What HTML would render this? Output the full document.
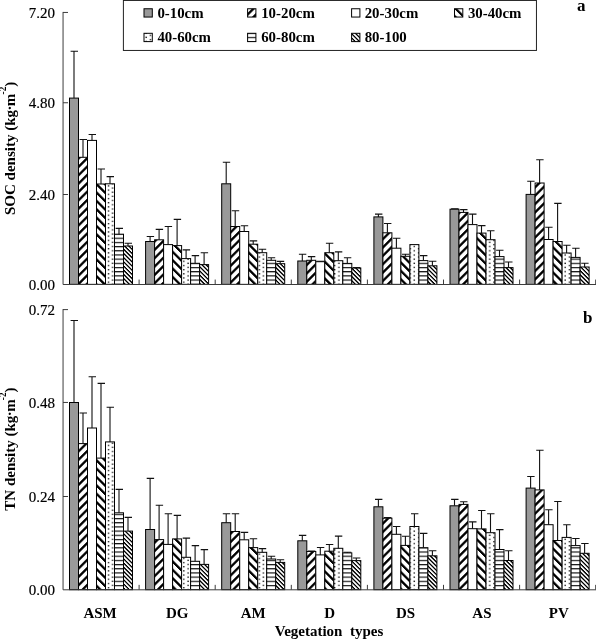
<!DOCTYPE html>
<html><head><meta charset="utf-8"><title>SOC and TN density by vegetation type</title>
<style>html,body{margin:0;padding:0;background:#fff}svg{display:block}</style></head>
<body>
<svg width="596" height="639" viewBox="0 0 596 639">
<defs>
<pattern id="p2" patternUnits="userSpaceOnUse" width="10" height="8.368" patternTransform="skewY(-45.000)"><rect width="10" height="8.368" fill="#fff"/><rect x="0" y="1.115" width="10" height="3.25" fill="#000"/></pattern>
<pattern id="p4" patternUnits="userSpaceOnUse" width="10" height="8.368" patternTransform="skewY(45.000)"><rect width="10" height="8.368" fill="#fff"/><rect x="0" y="-6.093" width="10" height="3.25" fill="#000"/><rect x="0" y="2.275" width="10" height="3.25" fill="#000"/></pattern>
<pattern id="p7" patternUnits="userSpaceOnUse" width="10" height="4.184" patternTransform="skewY(45.000)"><rect width="10" height="4.184" fill="#fff"/><rect x="0" y="3.330" width="10" height="1.9" fill="#000"/><rect x="0" y="-0.854" width="10" height="1.9" fill="#000"/></pattern>
<pattern id="p6" patternUnits="userSpaceOnUse" width="10" height="4.184"><rect width="10" height="4.184" fill="#fff"/><rect x="0" y="3.400" width="10" height="1.1" fill="#000"/><rect x="0" y="-0.784" width="10" height="1.1" fill="#000"/></pattern>
<pattern id="p4L" patternUnits="userSpaceOnUse" width="10" height="8.368" patternTransform="skewY(45.000)"><rect width="10" height="8.368" fill="#fff"/><rect x="0" y="3.350" width="10" height="3.1" fill="#000"/></pattern>
<pattern id="p5" patternUnits="userSpaceOnUse" width="8.38" height="4.184" x="7.240" y="1.200"><rect width="8.38" height="4.184" fill="#fff"/><rect x="0" y="0" width="1.3" height="1.3" fill="#000"/><rect x="4.190" y="2.092" width="1.3" height="1.3" fill="#000"/></pattern>
</defs>
<rect width="596" height="639" fill="#fff"/>
<rect x="69.50" y="98.10" width="9.0" height="186.25" fill="#999" stroke="#000" stroke-width="1"/>
<rect x="78.50" y="157.30" width="9.0" height="127.05" fill="url(#p2)" stroke="#000" stroke-width="1"/>
<rect x="87.50" y="140.40" width="9.0" height="143.95" fill="#fff" stroke="#000" stroke-width="1"/>
<rect x="96.50" y="184.00" width="9.0" height="100.35" fill="url(#p4)" stroke="#000" stroke-width="1"/>
<rect x="105.50" y="183.80" width="9.0" height="100.55" fill="url(#p5)" stroke="#000" stroke-width="1"/>
<rect x="114.50" y="234.20" width="9.0" height="50.15" fill="url(#p6)" stroke="#000" stroke-width="1"/>
<rect x="123.50" y="246.00" width="9.0" height="38.35" fill="url(#p7)" stroke="#000" stroke-width="1"/>
<rect x="145.60" y="241.50" width="9.0" height="42.85" fill="#999" stroke="#000" stroke-width="1"/>
<rect x="154.60" y="239.80" width="9.0" height="44.55" fill="url(#p2)" stroke="#000" stroke-width="1"/>
<rect x="163.60" y="244.60" width="9.0" height="39.75" fill="#fff" stroke="#000" stroke-width="1"/>
<rect x="172.60" y="245.60" width="9.0" height="38.75" fill="url(#p4)" stroke="#000" stroke-width="1"/>
<rect x="181.60" y="258.60" width="9.0" height="25.75" fill="url(#p5)" stroke="#000" stroke-width="1"/>
<rect x="190.60" y="263.30" width="9.0" height="21.05" fill="url(#p6)" stroke="#000" stroke-width="1"/>
<rect x="199.60" y="264.60" width="9.0" height="19.75" fill="url(#p7)" stroke="#000" stroke-width="1"/>
<rect x="221.70" y="183.80" width="9.0" height="100.55" fill="#999" stroke="#000" stroke-width="1"/>
<rect x="230.70" y="226.50" width="9.0" height="57.85" fill="url(#p2)" stroke="#000" stroke-width="1"/>
<rect x="239.70" y="231.50" width="9.0" height="52.85" fill="#fff" stroke="#000" stroke-width="1"/>
<rect x="248.70" y="244.20" width="9.0" height="40.15" fill="url(#p4)" stroke="#000" stroke-width="1"/>
<rect x="257.70" y="252.70" width="9.0" height="31.65" fill="url(#p5)" stroke="#000" stroke-width="1"/>
<rect x="266.70" y="260.30" width="9.0" height="24.05" fill="url(#p6)" stroke="#000" stroke-width="1"/>
<rect x="275.70" y="263.70" width="9.0" height="20.65" fill="url(#p7)" stroke="#000" stroke-width="1"/>
<rect x="297.80" y="261.00" width="9.0" height="23.35" fill="#999" stroke="#000" stroke-width="1"/>
<rect x="306.80" y="260.30" width="9.0" height="24.05" fill="url(#p2)" stroke="#000" stroke-width="1"/>
<rect x="315.80" y="261.70" width="9.0" height="22.65" fill="#fff" stroke="#000" stroke-width="1"/>
<rect x="324.80" y="252.70" width="9.0" height="31.65" fill="url(#p4)" stroke="#000" stroke-width="1"/>
<rect x="333.80" y="260.70" width="9.0" height="23.65" fill="url(#p5)" stroke="#000" stroke-width="1"/>
<rect x="342.80" y="263.40" width="9.0" height="20.95" fill="url(#p6)" stroke="#000" stroke-width="1"/>
<rect x="351.80" y="268.00" width="9.0" height="16.35" fill="url(#p7)" stroke="#000" stroke-width="1"/>
<rect x="373.90" y="216.90" width="9.0" height="67.45" fill="#999" stroke="#000" stroke-width="1"/>
<rect x="382.90" y="232.80" width="9.0" height="51.55" fill="url(#p2)" stroke="#000" stroke-width="1"/>
<rect x="391.90" y="248.20" width="9.0" height="36.15" fill="#fff" stroke="#000" stroke-width="1"/>
<rect x="400.90" y="256.30" width="9.0" height="28.05" fill="url(#p4)" stroke="#000" stroke-width="1"/>
<rect x="409.90" y="244.60" width="9.0" height="39.75" fill="url(#p5)" stroke="#000" stroke-width="1"/>
<rect x="418.90" y="260.60" width="9.0" height="23.75" fill="url(#p6)" stroke="#000" stroke-width="1"/>
<rect x="427.90" y="265.80" width="9.0" height="18.55" fill="url(#p7)" stroke="#000" stroke-width="1"/>
<rect x="450.00" y="209.20" width="9.0" height="75.15" fill="#999" stroke="#000" stroke-width="1"/>
<rect x="459.00" y="212.40" width="9.0" height="71.95" fill="url(#p2)" stroke="#000" stroke-width="1"/>
<rect x="468.00" y="224.60" width="9.0" height="59.75" fill="#fff" stroke="#000" stroke-width="1"/>
<rect x="477.00" y="233.10" width="9.0" height="51.25" fill="url(#p4)" stroke="#000" stroke-width="1"/>
<rect x="486.00" y="239.70" width="9.0" height="44.65" fill="url(#p5)" stroke="#000" stroke-width="1"/>
<rect x="495.00" y="256.60" width="9.0" height="27.75" fill="url(#p6)" stroke="#000" stroke-width="1"/>
<rect x="504.00" y="267.60" width="9.0" height="16.75" fill="url(#p7)" stroke="#000" stroke-width="1"/>
<rect x="526.10" y="194.40" width="9.0" height="89.95" fill="#999" stroke="#000" stroke-width="1"/>
<rect x="535.10" y="183.00" width="9.0" height="101.35" fill="url(#p2)" stroke="#000" stroke-width="1"/>
<rect x="544.10" y="239.50" width="9.0" height="44.85" fill="#fff" stroke="#000" stroke-width="1"/>
<rect x="553.10" y="241.50" width="9.0" height="42.85" fill="url(#p4)" stroke="#000" stroke-width="1"/>
<rect x="562.10" y="253.00" width="9.0" height="31.35" fill="url(#p5)" stroke="#000" stroke-width="1"/>
<rect x="571.10" y="257.40" width="9.0" height="26.95" fill="url(#p6)" stroke="#000" stroke-width="1"/>
<rect x="580.10" y="267.00" width="9.0" height="17.35" fill="url(#p7)" stroke="#000" stroke-width="1"/>
<path d="M74.00 98.10V51.30M70.60 51.30H78.00" stroke="#111" stroke-width="1.1" fill="none"/>
<path d="M83.00 157.30V139.50M79.60 139.50H87.00" stroke="#111" stroke-width="1.1" fill="none"/>
<path d="M92.00 140.40V134.50M88.60 134.50H96.00" stroke="#111" stroke-width="1.1" fill="none"/>
<path d="M101.00 184.00V169.00M97.60 169.00H105.00" stroke="#111" stroke-width="1.1" fill="none"/>
<path d="M110.00 183.80V176.60M106.60 176.60H114.00" stroke="#111" stroke-width="1.1" fill="none"/>
<path d="M119.00 234.20V228.40M115.60 228.40H123.00" stroke="#111" stroke-width="1.1" fill="none"/>
<path d="M128.00 246.00V243.30M124.60 243.30H132.00" stroke="#111" stroke-width="1.1" fill="none"/>
<path d="M150.10 241.50V236.50M146.70 236.50H154.10" stroke="#111" stroke-width="1.1" fill="none"/>
<path d="M159.10 239.80V229.40M155.70 229.40H163.10" stroke="#111" stroke-width="1.1" fill="none"/>
<path d="M168.10 244.60V226.50M164.70 226.50H172.10" stroke="#111" stroke-width="1.1" fill="none"/>
<path d="M177.10 245.60V219.40M173.70 219.40H181.10" stroke="#111" stroke-width="1.1" fill="none"/>
<path d="M186.10 258.60V249.90M182.70 249.90H190.10" stroke="#111" stroke-width="1.1" fill="none"/>
<path d="M195.10 263.30V255.60M191.70 255.60H199.10" stroke="#111" stroke-width="1.1" fill="none"/>
<path d="M204.10 264.60V252.70M200.70 252.70H208.10" stroke="#111" stroke-width="1.1" fill="none"/>
<path d="M226.20 183.80V162.30M222.80 162.30H230.20" stroke="#111" stroke-width="1.1" fill="none"/>
<path d="M235.20 226.50V210.70M231.80 210.70H239.20" stroke="#111" stroke-width="1.1" fill="none"/>
<path d="M244.20 231.50V225.70M240.80 225.70H248.20" stroke="#111" stroke-width="1.1" fill="none"/>
<path d="M253.20 244.20V240.90M249.80 240.90H257.20" stroke="#111" stroke-width="1.1" fill="none"/>
<path d="M262.20 252.70V249.20M258.80 249.20H266.20" stroke="#111" stroke-width="1.1" fill="none"/>
<path d="M271.20 260.30V257.70M267.80 257.70H275.20" stroke="#111" stroke-width="1.1" fill="none"/>
<path d="M280.20 263.70V261.40M276.80 261.40H284.20" stroke="#111" stroke-width="1.1" fill="none"/>
<path d="M302.30 261.00V254.30M298.90 254.30H306.30" stroke="#111" stroke-width="1.1" fill="none"/>
<path d="M311.30 260.30V256.60M307.90 256.60H315.30" stroke="#111" stroke-width="1.1" fill="none"/>
<path d="M320.30 261.70V261.20M316.90 261.20H324.30" stroke="#111" stroke-width="1.1" fill="none"/>
<path d="M329.30 252.70V243.30M325.90 243.30H333.30" stroke="#111" stroke-width="1.1" fill="none"/>
<path d="M338.30 260.70V251.90M334.90 251.90H342.30" stroke="#111" stroke-width="1.1" fill="none"/>
<path d="M347.30 263.40V257.70M343.90 257.70H351.30" stroke="#111" stroke-width="1.1" fill="none"/>
<path d="M356.30 268.00V267.60M352.90 267.60H360.30" stroke="#111" stroke-width="1.1" fill="none"/>
<path d="M378.40 216.90V214.10M375.00 214.10H382.40" stroke="#111" stroke-width="1.1" fill="none"/>
<path d="M387.40 232.80V223.50M384.00 223.50H391.40" stroke="#111" stroke-width="1.1" fill="none"/>
<path d="M396.40 248.20V238.30M393.00 238.30H400.40" stroke="#111" stroke-width="1.1" fill="none"/>
<path d="M405.40 256.30V254.20M402.00 254.20H409.40" stroke="#111" stroke-width="1.1" fill="none"/>
<path d="M423.40 260.60V255.60M420.00 255.60H427.40" stroke="#111" stroke-width="1.1" fill="none"/>
<path d="M432.40 265.80V261.30M429.00 261.30H436.40" stroke="#111" stroke-width="1.1" fill="none"/>
<path d="M454.50 209.20V208.70M451.10 208.70H458.50" stroke="#111" stroke-width="1.1" fill="none"/>
<path d="M463.50 212.40V209.60M460.10 209.60H467.50" stroke="#111" stroke-width="1.1" fill="none"/>
<path d="M472.50 224.60V214.10M469.10 214.10H476.50" stroke="#111" stroke-width="1.1" fill="none"/>
<path d="M481.50 233.10V225.60M478.10 225.60H485.50" stroke="#111" stroke-width="1.1" fill="none"/>
<path d="M490.50 239.70V230.70M487.10 230.70H494.50" stroke="#111" stroke-width="1.1" fill="none"/>
<path d="M499.50 256.60V250.30M496.10 250.30H503.50" stroke="#111" stroke-width="1.1" fill="none"/>
<path d="M508.50 267.60V262.00M505.10 262.00H512.50" stroke="#111" stroke-width="1.1" fill="none"/>
<path d="M530.60 194.40V181.20M527.20 181.20H534.60" stroke="#111" stroke-width="1.1" fill="none"/>
<path d="M539.60 183.00V159.70M536.20 159.70H543.60" stroke="#111" stroke-width="1.1" fill="none"/>
<path d="M548.60 239.50V227.20M545.20 227.20H552.60" stroke="#111" stroke-width="1.1" fill="none"/>
<path d="M557.60 241.50V203.40M554.20 203.40H561.60" stroke="#111" stroke-width="1.1" fill="none"/>
<path d="M566.60 253.00V245.30M563.20 245.30H570.60" stroke="#111" stroke-width="1.1" fill="none"/>
<path d="M575.60 257.40V248.30M572.20 248.30H579.60" stroke="#111" stroke-width="1.1" fill="none"/>
<path d="M584.60 267.00V263.30M581.20 263.30H588.60" stroke="#111" stroke-width="1.1" fill="none"/>
<path d="M63.05 11.95V284.5H596.1999999999999M63.0 12.45h5M63.0 102.75h5M63.0 194.50h5M139.10 284.35v-4.8M215.20 284.35v-4.8M291.30 284.35v-4.8M367.40 284.35v-4.8M443.50 284.35v-4.8M519.60 284.35v-4.8M595.70 284.35v-4.8" stroke="#3c3c3c" stroke-width="1" fill="none"/>
<rect x="69.50" y="402.50" width="9.0" height="187.15" fill="#999" stroke="#000" stroke-width="1"/>
<rect x="78.50" y="443.60" width="9.0" height="146.05" fill="url(#p2)" stroke="#000" stroke-width="1"/>
<rect x="87.50" y="428.00" width="9.0" height="161.65" fill="#fff" stroke="#000" stroke-width="1"/>
<rect x="96.50" y="458.10" width="9.0" height="131.55" fill="url(#p4)" stroke="#000" stroke-width="1"/>
<rect x="105.50" y="441.90" width="9.0" height="147.75" fill="url(#p5)" stroke="#000" stroke-width="1"/>
<rect x="114.50" y="512.80" width="9.0" height="76.85" fill="url(#p6)" stroke="#000" stroke-width="1"/>
<rect x="123.50" y="531.10" width="9.0" height="58.55" fill="url(#p7)" stroke="#000" stroke-width="1"/>
<rect x="145.60" y="529.50" width="9.0" height="60.15" fill="#999" stroke="#000" stroke-width="1"/>
<rect x="154.60" y="539.60" width="9.0" height="50.05" fill="url(#p2)" stroke="#000" stroke-width="1"/>
<rect x="163.60" y="544.40" width="9.0" height="45.25" fill="#fff" stroke="#000" stroke-width="1"/>
<rect x="172.60" y="538.90" width="9.0" height="50.75" fill="url(#p4)" stroke="#000" stroke-width="1"/>
<rect x="181.60" y="557.30" width="9.0" height="32.35" fill="url(#p5)" stroke="#000" stroke-width="1"/>
<rect x="190.60" y="561.30" width="9.0" height="28.35" fill="url(#p6)" stroke="#000" stroke-width="1"/>
<rect x="199.60" y="564.40" width="9.0" height="25.25" fill="url(#p7)" stroke="#000" stroke-width="1"/>
<rect x="221.70" y="522.70" width="9.0" height="66.95" fill="#999" stroke="#000" stroke-width="1"/>
<rect x="230.70" y="531.50" width="9.0" height="58.15" fill="url(#p2)" stroke="#000" stroke-width="1"/>
<rect x="239.70" y="539.80" width="9.0" height="49.85" fill="#fff" stroke="#000" stroke-width="1"/>
<rect x="248.70" y="547.60" width="9.0" height="42.05" fill="url(#p4)" stroke="#000" stroke-width="1"/>
<rect x="257.70" y="552.30" width="9.0" height="37.35" fill="url(#p5)" stroke="#000" stroke-width="1"/>
<rect x="266.70" y="559.00" width="9.0" height="30.65" fill="url(#p6)" stroke="#000" stroke-width="1"/>
<rect x="275.70" y="562.40" width="9.0" height="27.25" fill="url(#p7)" stroke="#000" stroke-width="1"/>
<rect x="297.80" y="540.80" width="9.0" height="48.85" fill="#999" stroke="#000" stroke-width="1"/>
<rect x="306.80" y="551.50" width="9.0" height="38.15" fill="url(#p2)" stroke="#000" stroke-width="1"/>
<rect x="315.80" y="554.90" width="9.0" height="34.75" fill="#fff" stroke="#000" stroke-width="1"/>
<rect x="324.80" y="551.20" width="9.0" height="38.45" fill="url(#p4)" stroke="#000" stroke-width="1"/>
<rect x="333.80" y="548.30" width="9.0" height="41.35" fill="url(#p5)" stroke="#000" stroke-width="1"/>
<rect x="342.80" y="552.90" width="9.0" height="36.75" fill="url(#p6)" stroke="#000" stroke-width="1"/>
<rect x="351.80" y="560.60" width="9.0" height="29.05" fill="url(#p7)" stroke="#000" stroke-width="1"/>
<rect x="373.90" y="506.80" width="9.0" height="82.85" fill="#999" stroke="#000" stroke-width="1"/>
<rect x="382.90" y="518.20" width="9.0" height="71.45" fill="url(#p2)" stroke="#000" stroke-width="1"/>
<rect x="391.90" y="534.30" width="9.0" height="55.35" fill="#fff" stroke="#000" stroke-width="1"/>
<rect x="400.90" y="545.40" width="9.0" height="44.25" fill="url(#p4)" stroke="#000" stroke-width="1"/>
<rect x="409.90" y="526.50" width="9.0" height="63.15" fill="url(#p5)" stroke="#000" stroke-width="1"/>
<rect x="418.90" y="547.70" width="9.0" height="41.95" fill="url(#p6)" stroke="#000" stroke-width="1"/>
<rect x="427.90" y="555.80" width="9.0" height="33.85" fill="url(#p7)" stroke="#000" stroke-width="1"/>
<rect x="450.00" y="505.80" width="9.0" height="83.85" fill="#999" stroke="#000" stroke-width="1"/>
<rect x="459.00" y="504.40" width="9.0" height="85.25" fill="url(#p2)" stroke="#000" stroke-width="1"/>
<rect x="468.00" y="528.70" width="9.0" height="60.95" fill="#fff" stroke="#000" stroke-width="1"/>
<rect x="477.00" y="528.90" width="9.0" height="60.75" fill="url(#p4)" stroke="#000" stroke-width="1"/>
<rect x="486.00" y="532.70" width="9.0" height="56.95" fill="url(#p5)" stroke="#000" stroke-width="1"/>
<rect x="495.00" y="549.50" width="9.0" height="40.15" fill="url(#p6)" stroke="#000" stroke-width="1"/>
<rect x="504.00" y="560.50" width="9.0" height="29.15" fill="url(#p7)" stroke="#000" stroke-width="1"/>
<rect x="526.10" y="488.10" width="9.0" height="101.55" fill="#999" stroke="#000" stroke-width="1"/>
<rect x="535.10" y="489.90" width="9.0" height="99.75" fill="url(#p2)" stroke="#000" stroke-width="1"/>
<rect x="544.10" y="524.70" width="9.0" height="64.95" fill="#fff" stroke="#000" stroke-width="1"/>
<rect x="553.10" y="540.50" width="9.0" height="49.15" fill="url(#p4)" stroke="#000" stroke-width="1"/>
<rect x="562.10" y="537.40" width="9.0" height="52.25" fill="url(#p5)" stroke="#000" stroke-width="1"/>
<rect x="571.10" y="545.60" width="9.0" height="44.05" fill="url(#p6)" stroke="#000" stroke-width="1"/>
<rect x="580.10" y="553.30" width="9.0" height="36.35" fill="url(#p7)" stroke="#000" stroke-width="1"/>
<path d="M74.00 402.50V320.50M70.60 320.50H78.00" stroke="#111" stroke-width="1.1" fill="none"/>
<path d="M83.00 443.60V413.00M79.60 413.00H87.00" stroke="#111" stroke-width="1.1" fill="none"/>
<path d="M92.00 428.00V376.70M88.60 376.70H96.00" stroke="#111" stroke-width="1.1" fill="none"/>
<path d="M101.00 458.10V383.40M97.60 383.40H105.00" stroke="#111" stroke-width="1.1" fill="none"/>
<path d="M110.00 441.90V407.20M106.60 407.20H114.00" stroke="#111" stroke-width="1.1" fill="none"/>
<path d="M119.00 512.80V489.40M115.60 489.40H123.00" stroke="#111" stroke-width="1.1" fill="none"/>
<path d="M128.00 531.10V517.40M124.60 517.40H132.00" stroke="#111" stroke-width="1.1" fill="none"/>
<path d="M150.10 529.50V478.40M146.70 478.40H154.10" stroke="#111" stroke-width="1.1" fill="none"/>
<path d="M159.10 539.60V505.20M155.70 505.20H163.10" stroke="#111" stroke-width="1.1" fill="none"/>
<path d="M168.10 544.40V513.70M164.70 513.70H172.10" stroke="#111" stroke-width="1.1" fill="none"/>
<path d="M177.10 538.90V515.40M173.70 515.40H181.10" stroke="#111" stroke-width="1.1" fill="none"/>
<path d="M186.10 557.30V538.10M182.70 538.10H190.10" stroke="#111" stroke-width="1.1" fill="none"/>
<path d="M195.10 561.30V545.60M191.70 545.60H199.10" stroke="#111" stroke-width="1.1" fill="none"/>
<path d="M204.10 564.40V549.60M200.70 549.60H208.10" stroke="#111" stroke-width="1.1" fill="none"/>
<path d="M226.20 522.70V513.70M222.80 513.70H230.20" stroke="#111" stroke-width="1.1" fill="none"/>
<path d="M235.20 531.50V513.70M231.80 513.70H239.20" stroke="#111" stroke-width="1.1" fill="none"/>
<path d="M244.20 539.80V532.40M240.80 532.40H248.20" stroke="#111" stroke-width="1.1" fill="none"/>
<path d="M253.20 547.60V538.70M249.80 538.70H257.20" stroke="#111" stroke-width="1.1" fill="none"/>
<path d="M262.20 552.30V548.60M258.80 548.60H266.20" stroke="#111" stroke-width="1.1" fill="none"/>
<path d="M271.20 559.00V556.20M267.80 556.20H275.20" stroke="#111" stroke-width="1.1" fill="none"/>
<path d="M280.20 562.40V559.80M276.80 559.80H284.20" stroke="#111" stroke-width="1.1" fill="none"/>
<path d="M302.30 540.80V535.40M298.90 535.40H306.30" stroke="#111" stroke-width="1.1" fill="none"/>
<path d="M311.30 551.50V551.00M307.90 551.00H315.30" stroke="#111" stroke-width="1.1" fill="none"/>
<path d="M320.30 554.90V547.50M316.90 547.50H324.30" stroke="#111" stroke-width="1.1" fill="none"/>
<path d="M329.30 551.20V544.50M325.90 544.50H333.30" stroke="#111" stroke-width="1.1" fill="none"/>
<path d="M338.30 548.30V536.10M334.90 536.10H342.30" stroke="#111" stroke-width="1.1" fill="none"/>
<path d="M347.30 552.90V552.30M343.90 552.30H351.30" stroke="#111" stroke-width="1.1" fill="none"/>
<path d="M356.30 560.60V558.00M352.90 558.00H360.30" stroke="#111" stroke-width="1.1" fill="none"/>
<path d="M378.40 506.80V499.40M375.00 499.40H382.40" stroke="#111" stroke-width="1.1" fill="none"/>
<path d="M387.40 518.20V517.50M384.00 517.50H391.40" stroke="#111" stroke-width="1.1" fill="none"/>
<path d="M396.40 534.30V526.50M393.00 526.50H400.40" stroke="#111" stroke-width="1.1" fill="none"/>
<path d="M405.40 545.40V536.30M402.00 536.30H409.40" stroke="#111" stroke-width="1.1" fill="none"/>
<path d="M414.40 526.50V513.80M411.00 513.80H418.40" stroke="#111" stroke-width="1.1" fill="none"/>
<path d="M423.40 547.70V533.40M420.00 533.40H427.40" stroke="#111" stroke-width="1.1" fill="none"/>
<path d="M432.40 555.80V550.70M429.00 550.70H436.40" stroke="#111" stroke-width="1.1" fill="none"/>
<path d="M454.50 505.80V499.40M451.10 499.40H458.50" stroke="#111" stroke-width="1.1" fill="none"/>
<path d="M463.50 504.40V501.70M460.10 501.70H467.50" stroke="#111" stroke-width="1.1" fill="none"/>
<path d="M472.50 528.70V521.90M469.10 521.90H476.50" stroke="#111" stroke-width="1.1" fill="none"/>
<path d="M481.50 528.90V510.50M478.10 510.50H485.50" stroke="#111" stroke-width="1.1" fill="none"/>
<path d="M490.50 532.70V513.80M487.10 513.80H494.50" stroke="#111" stroke-width="1.1" fill="none"/>
<path d="M499.50 549.50V529.60M496.10 529.60H503.50" stroke="#111" stroke-width="1.1" fill="none"/>
<path d="M508.50 560.50V550.70M505.10 550.70H512.50" stroke="#111" stroke-width="1.1" fill="none"/>
<path d="M530.60 488.10V476.50M527.20 476.50H534.60" stroke="#111" stroke-width="1.1" fill="none"/>
<path d="M539.60 489.90V450.30M536.20 450.30H543.60" stroke="#111" stroke-width="1.1" fill="none"/>
<path d="M548.60 524.70V509.80M545.20 509.80H552.60" stroke="#111" stroke-width="1.1" fill="none"/>
<path d="M557.60 540.50V501.50M554.20 501.50H561.60" stroke="#111" stroke-width="1.1" fill="none"/>
<path d="M566.60 537.40V524.80M563.20 524.80H570.60" stroke="#111" stroke-width="1.1" fill="none"/>
<path d="M575.60 545.60V538.50M572.20 538.50H579.60" stroke="#111" stroke-width="1.1" fill="none"/>
<path d="M584.60 553.30V543.50M581.20 543.50H588.60" stroke="#111" stroke-width="1.1" fill="none"/>
<path d="M63.05 309.1V589.8H596.1999999999999M63.0 309.60h5M63.0 402.45h5M63.0 496.50h5M139.10 589.65v-4.8M215.20 589.65v-4.8M291.30 589.65v-4.8M367.40 589.65v-4.8M443.50 589.65v-4.8M519.60 589.65v-4.8M595.70 589.65v-4.8" stroke="#3c3c3c" stroke-width="1" fill="none"/>
<g font-family="Liberation Serif, serif" font-size="15" fill="#000" stroke="#000" stroke-width="0.2" text-anchor="end">
<text x="55.0" y="17.90">7.20</text>
<text x="55.0" y="107.90">4.80</text>
<text x="55.0" y="199.70">2.40</text>
<text x="55.0" y="289.50">0.00</text>
<text x="55.0" y="314.80">0.72</text>
<text x="55.0" y="407.50">0.48</text>
<text x="55.0" y="501.80">0.24</text>
<text x="55.0" y="594.70">0.00</text>
</g>
<g font-family="Liberation Serif, serif" font-size="15" font-weight="bold" fill="#000" text-anchor="middle">
<text x="100.05" y="618">ASM</text>
<text x="177.25" y="618">DG</text>
<text x="253.15" y="618">AM</text>
<text x="329.75" y="618">D</text>
<text x="405.55" y="618">DS</text>
<text x="481.95" y="618">AS</text>
<text x="558.85" y="618">PV</text>
<text x="329.0" y="635.9" xml:space="preserve">Vegetation  types</text>
</g>
<g font-family="Liberation Serif, serif" font-size="15" font-weight="bold" fill="#000">
<text transform="translate(15.4 215) rotate(-90)">SOC density (kg<tspan dx="-0.6">·</tspan><tspan dx="-0.6">m</tspan><tspan font-size="9.3" dy="-9.0" dx="-0.8">-2</tspan><tspan dy="9.0">)</tspan></text>
<text transform="translate(15.4 510.7) rotate(-90)">TN density (kg<tspan dx="-0.6">·</tspan><tspan dx="-0.6">m</tspan><tspan font-size="9.3" dy="-9.0" dx="-0.8">-2</tspan><tspan dy="9.0">)</tspan></text>
<text x="577" y="10.7" font-size="17">a</text>
<text x="583" y="322.6" font-size="17">b</text>
</g>
<rect x="123.4" y="0.45" width="413.05" height="50" fill="#fff" stroke="#222" stroke-width="1"/>
<g font-family="Liberation Serif, serif" font-size="14.85" font-weight="bold" fill="#000">
<rect x="144.0" y="8.75" width="8.3" height="8.3" fill="#999" stroke="#000" stroke-width="1"/>
<text x="157.4" y="17.9">0-10cm</text>
<rect x="247.6" y="8.75" width="8.3" height="8.3" fill="url(#p2)" stroke="#000" stroke-width="1"/>
<text x="261.2" y="17.9">10-20cm</text>
<rect x="351.6" y="8.75" width="8.3" height="8.3" fill="#fff" stroke="#000" stroke-width="1"/>
<text x="364.7" y="17.9">20-30cm</text>
<rect x="454.5" y="8.75" width="8.3" height="8.3" fill="url(#p4L)" stroke="#000" stroke-width="1"/>
<text x="467.9" y="17.9">30-40cm</text>
<rect x="144.0" y="33.3" width="8.3" height="8.3" fill="url(#p5)" stroke="#000" stroke-width="1"/>
<text x="157.4" y="42.2">40-60cm</text>
<rect x="247.6" y="33.3" width="8.3" height="8.3" fill="url(#p6)" stroke="#000" stroke-width="1"/>
<text x="261.2" y="42.2">60-80cm</text>
<rect x="351.6" y="33.3" width="8.3" height="8.3" fill="url(#p7)" stroke="#000" stroke-width="1"/>
<text x="364.7" y="42.2">80-100</text>
</g>
</svg>
</body></html>
